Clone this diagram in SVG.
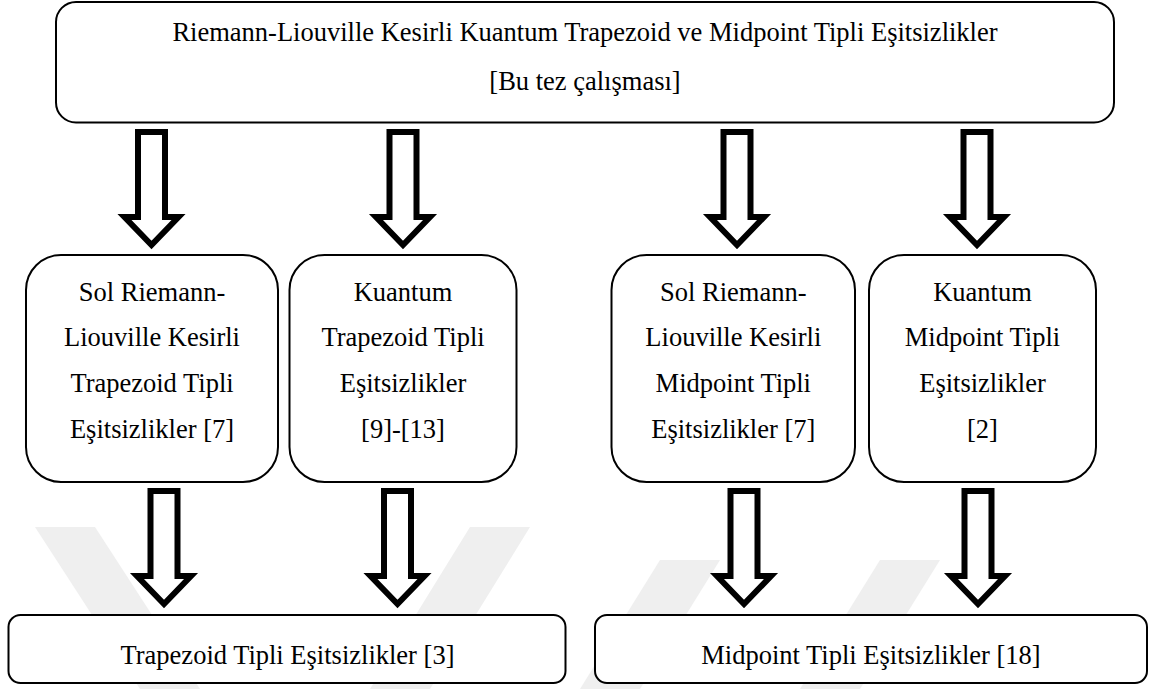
<svg xmlns="http://www.w3.org/2000/svg" width="1155" height="689" viewBox="0 0 1155 689">
<style>
.box{fill:#fff;stroke:#000;stroke-width:2}
.arr{fill:#fff;stroke:#000;stroke-width:6;stroke-linejoin:miter}
.t{font-family:"Liberation Serif","Times New Roman",serif;font-size:26.5px;fill:#000;text-anchor:middle}
.wm{fill:#efefef}
</style>
<defs>
<path id="arrow" d="M-13.5,0 L13.5,0 L13.5,85 L27,85 L0,113 L-27,85 L-13.5,85 Z"/>
</defs>
<rect width="1155" height="689" fill="#fff"/>
<g id="watermark">
<polygon class="wm" points="35,527 95,527 200,689 140,689"/>
<polygon class="wm" points="470,527 530,527 430,689 370,689"/>
<polygon class="wm" points="660,560 720,560 640,689 580,689"/>
<polygon class="wm" points="880,560 940,560 860,689 800,689"/>
</g>
<g id="connectors">
<use href="#arrow" class="arr" x="151.5" y="132"/>
<use href="#arrow" class="arr" x="403" y="132"/>
<use href="#arrow" class="arr" x="737" y="132"/>
<use href="#arrow" class="arr" x="977" y="132"/>
<use href="#arrow" class="arr" x="164" y="491"/>
<use href="#arrow" class="arr" x="397.5" y="491"/>
<use href="#arrow" class="arr" x="744" y="491"/>
<use href="#arrow" class="arr" x="978" y="491"/>
</g>
<g id="node-top">
<rect class="box" x="56" y="2" width="1058" height="120.5" rx="20"/>
<text class="t" x="585" y="40.7">Riemann-Liouville Kesirli Kuantum Trapezoid ve Midpoint Tipli Eşitsizlikler</text>
<text class="t" x="585" y="90">[Bu tez çalışması]</text>
</g>
<g id="node-sol-trapezoid">
<rect class="box" x="26" y="255" width="252" height="227" rx="35"/>
<text class="t" x="152" y="300.5">Sol Riemann-</text>
<text class="t" x="152" y="346.3">Liouville Kesirli</text>
<text class="t" x="152" y="392.1">Trapezoid Tipli</text>
<text class="t" x="152" y="437.9">Eşitsizlikler [7]</text>
</g>
<g id="node-kuantum-trapezoid">
<rect class="box" x="289.5" y="255" width="227" height="227" rx="35"/>
<text class="t" x="403" y="300.5">Kuantum</text>
<text class="t" x="403" y="346.3">Trapezoid Tipli</text>
<text class="t" x="403" y="392.1">Eşitsizlikler</text>
<text class="t" x="403" y="437.9">[9]-[13]</text>
</g>
<g id="node-sol-midpoint">
<rect class="box" x="611.5" y="255" width="243.5" height="227" rx="35"/>
<text class="t" x="733.3" y="300.5">Sol Riemann-</text>
<text class="t" x="733.3" y="346.3">Liouville Kesirli</text>
<text class="t" x="733.3" y="392.1">Midpoint Tipli</text>
<text class="t" x="733.3" y="437.9">Eşitsizlikler [7]</text>
</g>
<g id="node-kuantum-midpoint">
<rect class="box" x="869" y="255" width="227" height="227" rx="35"/>
<text class="t" x="982.5" y="300.5">Kuantum</text>
<text class="t" x="982.5" y="346.3">Midpoint Tipli</text>
<text class="t" x="982.5" y="392.1">Eşitsizlikler</text>
<text class="t" x="982.5" y="437.9">[2]</text>
</g>
<g id="node-trapezoid">
<rect class="box" x="8.5" y="615" width="557" height="68" rx="12"/>
<text class="t" x="287.5" y="664">Trapezoid Tipli Eşitsizlikler [3]</text>
</g>
<g id="node-midpoint">
<rect class="box" x="595" y="615" width="552" height="68" rx="12"/>
<text class="t" x="871" y="664">Midpoint Tipli Eşitsizlikler [18]</text>
</g>
</svg>
